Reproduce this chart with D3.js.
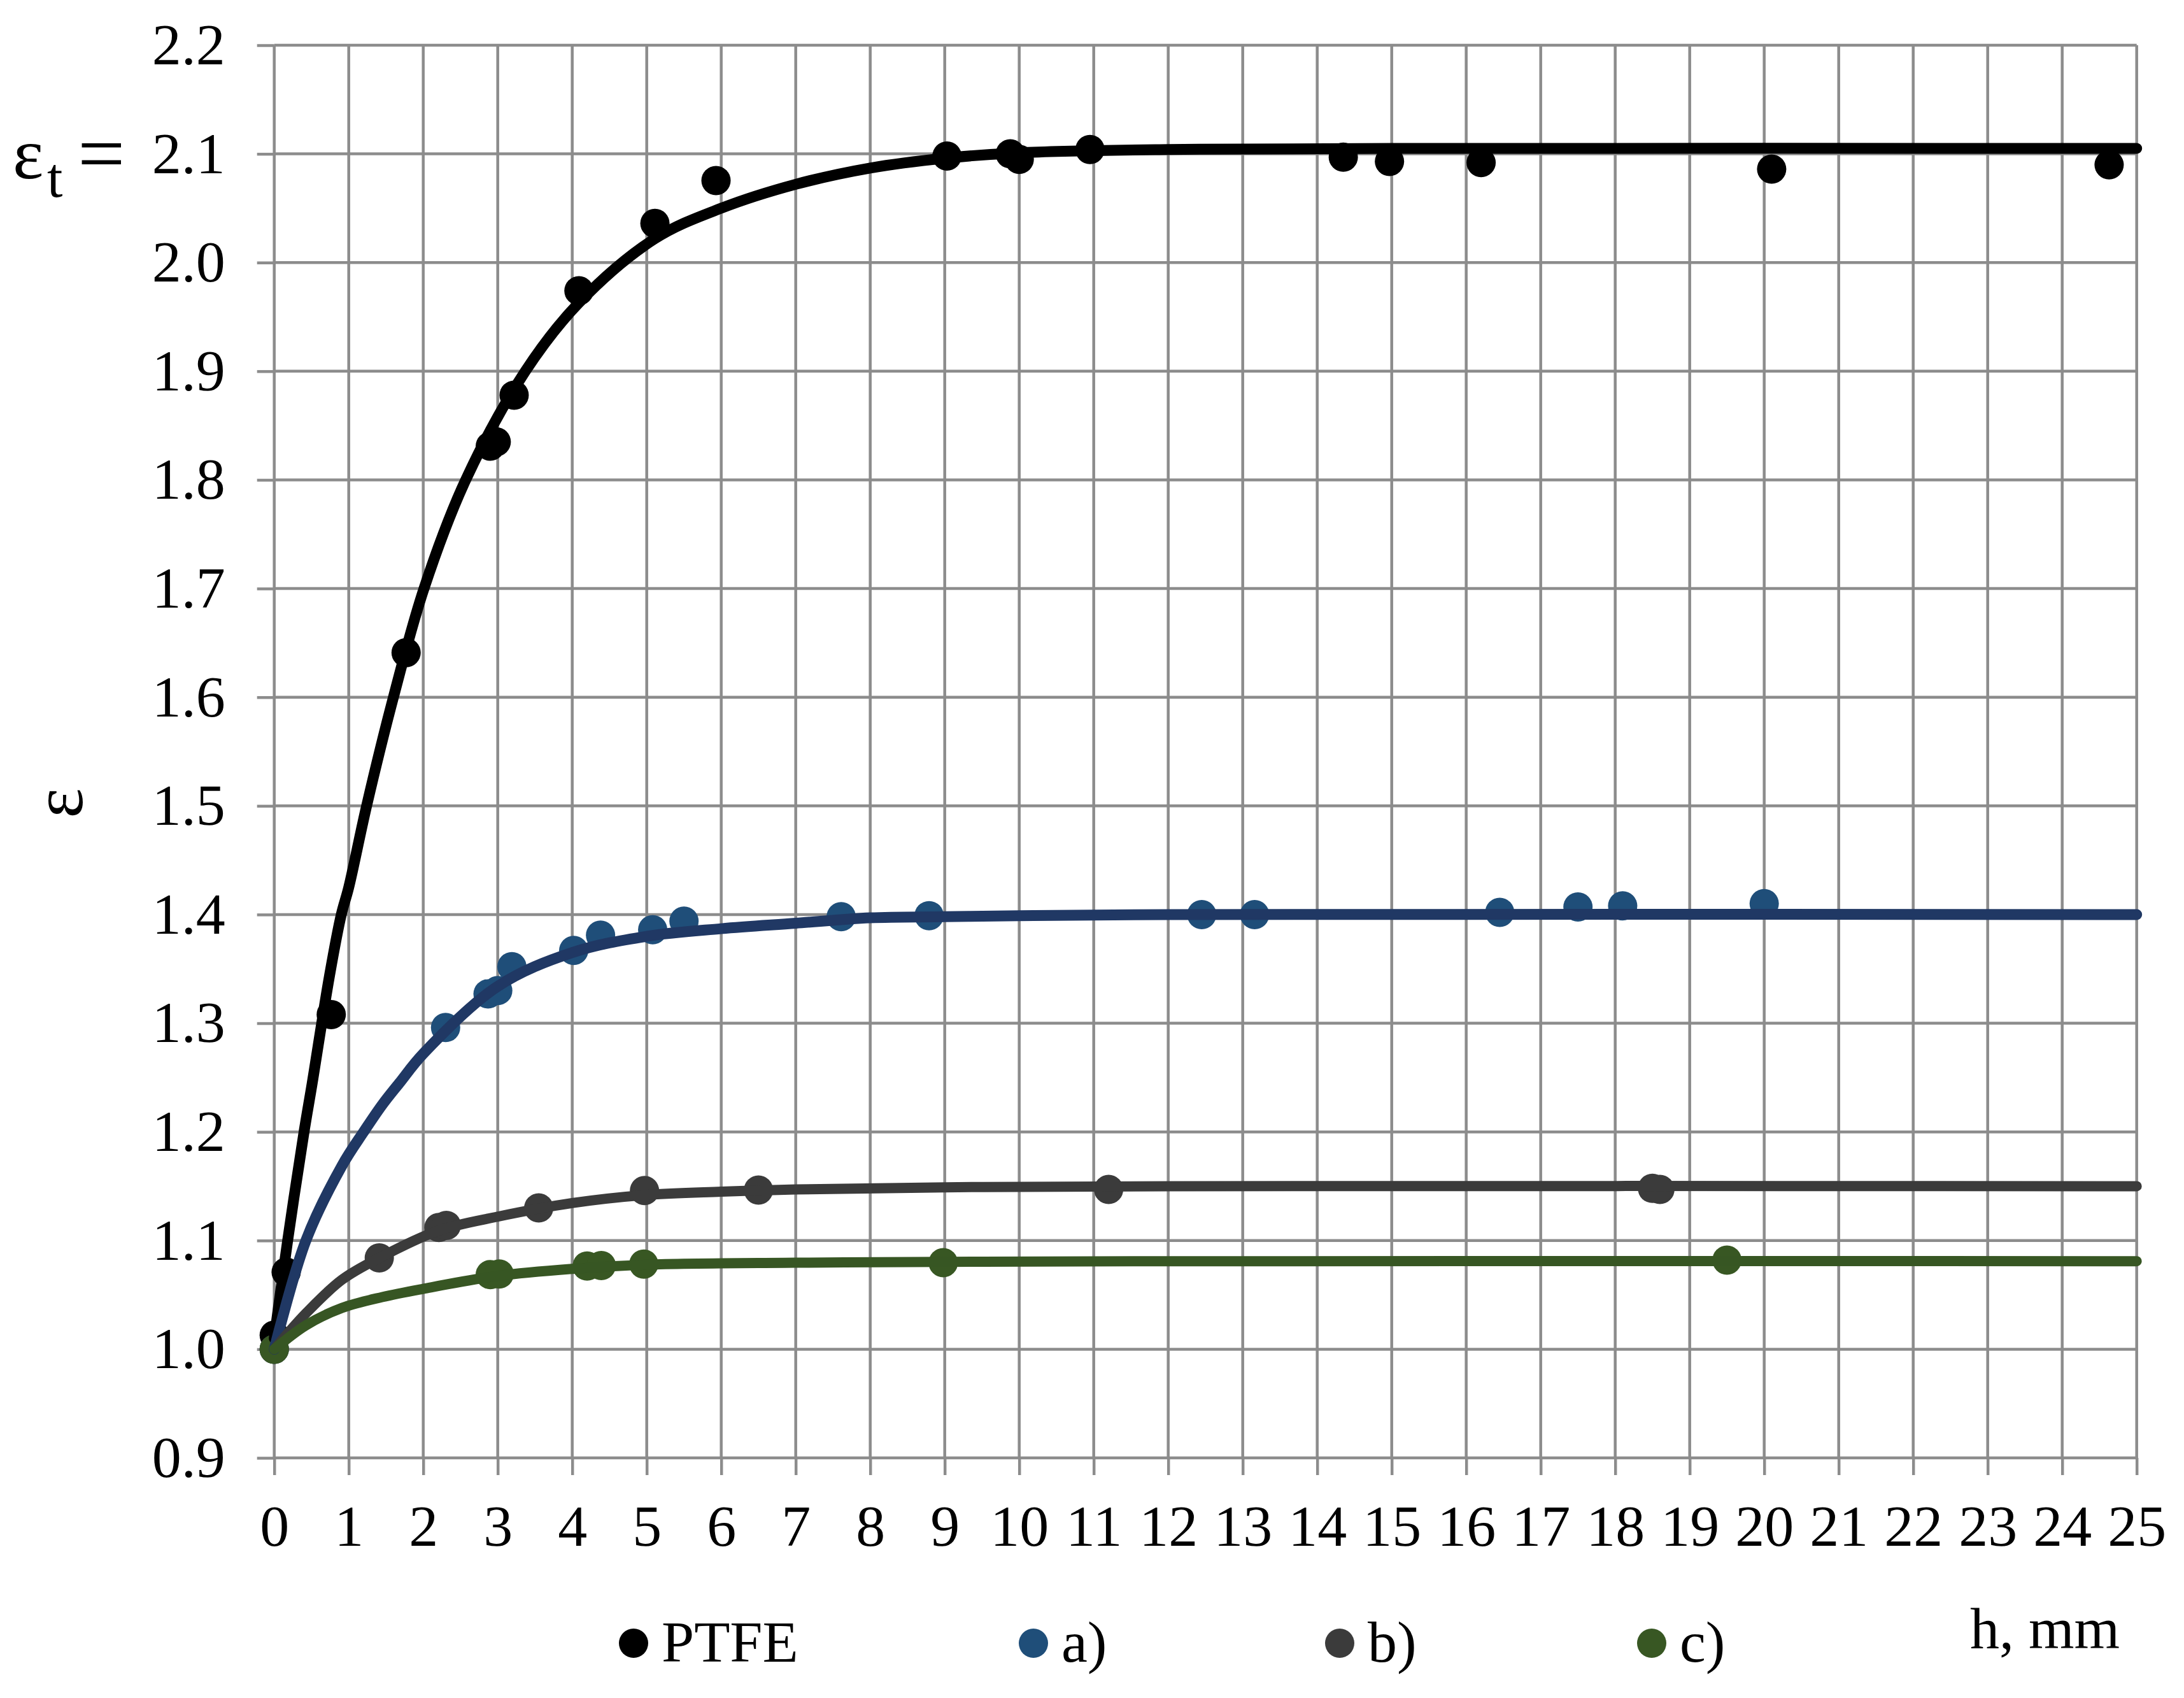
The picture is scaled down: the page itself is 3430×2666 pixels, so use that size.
<!DOCTYPE html>
<html>
<head>
<meta charset="utf-8">
<script src="https://cdn.jsdelivr.net/npm/d3@7"></script>
<style>
  body { margin: 0; background: #ffffff; }
  text { font-family: "Liberation Serif", "Times New Roman", serif; fill: #000; }
</style>
</head>
<body>
<script>
// measured points, h (mm) and permittivity
var ptfeH   = [0, 0.16, 0.765, 1.77, 2.9, 2.98, 3.22, 4.09, 5.11, 5.93, 9.03, 9.88, 10.0, 10.95, 14.35, 14.97, 16.2, 20.1, 24.63];
var ptfeEps = [1.013, 1.071, 1.308, 1.641, 1.831, 1.835, 1.878, 1.974, 2.036, 2.0755, 2.098, 2.100, 2.095, 2.104, 2.097, 2.093, 2.092, 2.086, 2.090];

var aH   = [0, 2.30, 2.87, 3.0, 3.19, 4.02, 4.38, 5.08, 5.50, 7.61, 8.79, 12.45, 13.16, 16.45, 17.5, 18.1, 20.0];
var aEps = [1.0, 1.296, 1.327, 1.330, 1.352, 1.367, 1.381, 1.386, 1.394, 1.398, 1.399, 1.400, 1.400, 1.402, 1.407, 1.408, 1.410];

var bH   = [0, 1.41, 2.21, 2.31, 3.55, 4.97, 6.5, 11.2, 18.5, 18.6];
var bEps = [1.0, 1.084, 1.112, 1.114, 1.130, 1.146, 1.1465, 1.147, 1.148, 1.147];

var cH   = [0, 2.9, 3.02, 4.2, 4.39, 4.96, 8.98, 19.5];
var cEps = [1.0, 1.0687, 1.0692, 1.0765, 1.077, 1.0783, 1.0796, 1.082];

// fitted curves
var ptfeFitH = [0, 0.18, 0.4, 0.51, 0.74, 0.9, 1.0, 1.24, 1.6, 2.01, 2.57, 3.37, 4.09, 5.11, 6, 7, 8, 9, 10, 12, 15, 25];
var ptfeFit  = [1.01, 1.10, 1.20, 1.245, 1.343, 1.40, 1.425, 1.50, 1.60, 1.70, 1.80, 1.90, 1.963, 2.022, 2.050, 2.072, 2.087, 2.096, 2.101, 2.104, 2.105, 2.105];

var aFitH = [0, 0.425, 0.91, 1.2, 1.45, 1.68, 2, 3, 4, 5, 6, 7, 8, 9, 10, 12, 25];
var aFit  = [1.0, 1.10, 1.169, 1.20, 1.225, 1.245, 1.272, 1.334, 1.365, 1.380, 1.387, 1.392, 1.397, 1.398, 1.399, 1.400, 1.400];

var bFitH = [0, 0.425, 0.91, 1.41, 2.2, 3, 4, 5, 6, 7, 9, 12, 25];
var bFit  = [1.0, 1.033, 1.064, 1.084, 1.109, 1.122, 1.1345, 1.142, 1.145, 1.147, 1.149, 1.150, 1.150];

var cFitH = [0, 0.425, 0.91, 1.45, 2, 3, 4, 5, 7, 9, 12, 25];
var cFit  = [1.0, 1.022, 1.038, 1.048, 1.0556, 1.0674, 1.0739, 1.0778, 1.0796, 1.0804, 1.081, 1.081];

var seriesNames = ["PTFE", "a)", "b)", "c)"];
var pointColors = ["#000000", "#1f4e79", "#3b3b3b", "#385723"];
var lineColors  = ["#000000", "#203864", "#3b3b3b", "#375623"];

var xTicks = d3.range(0, 26);
var yTicks = [0.9, 1.0, 1.1, 1.2, 1.3, 1.4, 1.5, 1.6, 1.7, 1.8, 1.9, 2.0, 2.1, 2.2];

var W = 3430, H = 2666;
// plot box in pixels (window.top is read-only, so no plain "top")
var plotL = 430.7, plotR = 3355.7, plotT = 71, plotB = 2289;
var gridColor = "#8c8c8c";

var x = d3.scaleLinear().domain([0, 25]).range([plotL, plotR]);
var y = d3.scaleLinear().domain([0.9, 2.2]).range([plotB, plotT]);

var svg = d3.select("body").append("svg")
  .attr("width", W)
  .attr("height", H);

// grid
svg.append("g").selectAll("line")
  .data(yTicks)
  .enter().append("line")
  .attr("x1", plotL).attr("x2", plotR)
  .attr("y1", function(d) { return y(d); })
  .attr("y2", function(d) { return y(d); })
  .attr("stroke", gridColor).attr("stroke-width", 4.5);

svg.append("g").selectAll("line")
  .data(xTicks)
  .enter().append("line")
  .attr("x1", function(d) { return x(d); })
  .attr("x2", function(d) { return x(d); })
  .attr("y1", plotT).attr("y2", plotB)
  .attr("stroke", gridColor).attr("stroke-width", 4.5);

// axes
var xAxis = svg.append("g")
  .attr("transform", "translate(0," + plotB + ")")
  .call(d3.axisBottom(x).tickValues(xTicks).tickSize(27).tickPadding(46).tickFormat(d3.format("d")));

var yAxis = svg.append("g")
  .attr("transform", "translate(" + plotL + ",0)")
  .call(d3.axisLeft(y).tickValues(yTicks).tickSize(27).tickPadding(50).tickFormat(d3.format(".1f")));

[xAxis, yAxis].forEach(function(ax) {
  ax.select(".domain").remove();
  ax.attr("font-family", null).attr("font-size", null);
  ax.selectAll(".tick line").attr("stroke", gridColor).attr("stroke-width", 4.5);
  ax.selectAll(".tick text").attr("font-size", 92).attr("fill", "#000");
});

// points first, curves drawn over them
var pointSets = [[ptfeH, ptfeEps], [aH, aEps], [bH, bEps], [cH, cEps]];
var fitSets = [[ptfeFitH, ptfeFit], [aFitH, aFit], [bFitH, bFit], [cFitH, cFit]];
var lineWidths = [17, 17, 16, 16];

pointSets.forEach(function(s, i) {
  svg.append("g").selectAll("circle")
    .data(d3.zip(s[0], s[1]))
    .enter().append("circle")
    .attr("cx", function(d) { return x(d[0]); })
    .attr("cy", function(d) { return y(d[1]); })
    .attr("r", 23)
    .attr("fill", pointColors[i]);
});

var pathDraw = d3.line()
  .x(function(d) { return x(d[0]); })
  .y(function(d) { return y(d[1]); })
  .curve(d3.curveCatmullRom.alpha(0.5));

fitSets.forEach(function(s, i) {
  svg.append("path")
    .attr("d", pathDraw(d3.zip(s[0], s[1])))
    .attr("fill", "none")
    .attr("stroke", lineColors[i])
    .attr("stroke-width", lineWidths[i])
    .attr("stroke-linecap", "round")
    .attr("stroke-linejoin", "round");
});

// axis titles
svg.append("text")
  .attr("transform", "translate(103,1261) rotate(-90)")
  .attr("text-anchor", "middle")
  .attr("dy", "0.23em")
  .attr("font-size", 112)
  .text("ε");

svg.append("text").attr("x", 20).attr("y", 280).attr("font-size", 115).text("ε");
svg.append("text").attr("x", 74).attr("y", 309).attr("font-size", 88).text("t");
svg.append("text").attr("x", 122).attr("y", 285).attr("font-size", 132).text("=");

svg.append("text")
  .attr("x", 3094).attr("y", 2588)
  .attr("font-size", 92)
  .text("h, mm");

// legend
var legendX = [995, 1623, 2104, 2594];
var legend = svg.append("g").selectAll("g")
  .data(seriesNames)
  .enter().append("g")
  .attr("transform", function(d, i) { return "translate(" + legendX[i] + ",2580)"; });

legend.append("circle")
  .attr("r", 23)
  .attr("fill", function(d, i) { return pointColors[i]; });

legend.append("text")
  .attr("x", 44).attr("y", 29)
  .attr("font-size", 92)
  .text(function(d) { return d; });
</script>
</body>
</html>
